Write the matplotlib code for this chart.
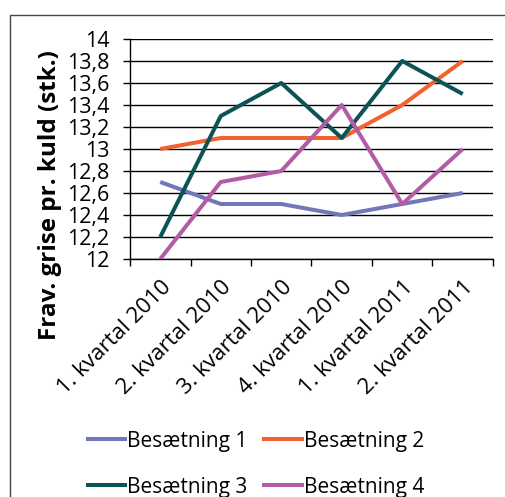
import matplotlib
matplotlib.use("Agg")
import matplotlib.pyplot as plt
from matplotlib.patches import Rectangle
from matplotlib.lines import Line2D

categories = ["1. kvartal 2010", "2. kvartal 2010", "3. kvartal 2010",
              "4. kvartal 2010", "1. kvartal 2011", "2. kvartal 2011"]
besaetning1 = [12.7, 12.5, 12.5, 12.4, 12.5, 12.6]
besaetning2 = [13.0, 13.1, 13.1, 13.1, 13.4, 13.8]
besaetning3 = [12.2, 13.3, 13.6, 13.1, 13.8, 13.5]
besaetning4 = [12.0, 12.7, 12.8, 13.4, 12.5, 13.0]
series_names = ["Besætning 1", "Besætning 2", "Besætning 3", "Besætning 4"]
colors = ["#7476ba", "#f0632e", "#0c5454", "#b35ca6"]
y_ticks = [12.0, 12.2, 12.4, 12.6, 12.8, 13.0, 13.2, 13.4, 13.6, 13.8, 14.0]

plt.rcParams["font.family"] = ["Open Sans", "DejaVu Sans"]

W, H = 506, 497
fig = plt.figure(figsize=(W / 100, H / 100), dpi=100)
ax = fig.add_axes([130 / W, 1 - 259 / H, (493 - 130) / W, (259 - 39) / H])

x = list(range(len(categories)))
for vals, c in zip([besaetning1, besaetning2, besaetning3, besaetning4], colors):
    ax.plot(x, vals, color=c, lw=2.9, solid_capstyle="butt", zorder=3)

ax.set_xlim(-0.5, len(categories) - 0.5)
ax.set_ylim(12, 14)
ax.set_yticks(y_ticks)
ax.set_yticklabels([f"{v:g}".replace(".", ",") for v in y_ticks], fontsize=15.5)
ax.yaxis.grid(True, color="black", lw=1)
ax.set_axisbelow(True)

ax.set_xticks([i + 0.5 for i in range(-1, len(categories))], minor=False)
ax.set_xticklabels([])
ax.set_xticks(x, minor=True)
ax.set_xticklabels(categories, minor=True, rotation=45, ha="right",
                   rotation_mode="anchor", fontsize=16)
ax.tick_params(axis="x", which="minor", length=0, pad=13)
ax.tick_params(axis="x", which="major", length=5, width=1, color="black")
ax.tick_params(axis="y", length=5, width=1, color="black", pad=10)

for s in ["top", "right"]:
    ax.spines[s].set_visible(False)
for s in ["left", "bottom"]:
    ax.spines[s].set_color("black")
    ax.spines[s].set_linewidth(1)

fig.text(50 / W, 1 - 195 / H, "Frav. grise pr. kuld (stk.)", fontsize=17.5,
         fontweight="bold", rotation=90, ha="center", va="center")

# legend filled column-wise, so reorder to read row-wise
order = [0, 2, 1, 3]
handles = [Line2D([0], [0], color=colors[i], lw=2.9) for i in order]
labels = [series_names[i] for i in order]
fig.legend(handles, labels, loc="center", ncol=2,
           bbox_to_anchor=(256 / W, 1 - 464 / H), frameon=False,
           fontsize=15, handlelength=1.8, handletextpad=0.1,
           columnspacing=0.8, labelspacing=1.2)

fig.patches.append(Rectangle((10 / W, -0.1), 1.2, 1 - 15 / H + 0.1,
                             transform=fig.transFigure, fill=False,
                             edgecolor="#444444", lw=1))

fig.savefig("out.png", dpi=100)
